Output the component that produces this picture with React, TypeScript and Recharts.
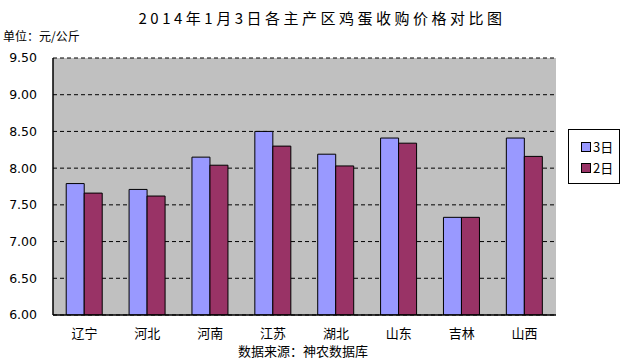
import React from 'react';
import { BarChart, Bar, XAxis, YAxis, CartesianGrid } from 'recharts';

const regions = ['辽宁', '河北', '河南', '江苏', '湖北', '山东', '吉林', '山西'];
const day3 = [7.79, 7.71, 8.15, 8.5, 8.19, 8.41, 7.33, 8.41];
const day2 = [7.66, 7.62, 8.04, 8.3, 8.03, 8.34, 7.33, 8.16];
const yTicks = [6, 6.5, 7, 7.5, 8, 8.5, 9, 9.5];

const seriesInfo = [
  { key: 'd3', name: '3日', color: '#9999FF' },
  { key: 'd2', name: '2日', color: '#993366' },
];

const data = regions.map((r, i) => ({ name: r, d3: day3[i], d2: day2[i] }));

const cjk = '"Noto Sans CJK SC", "DejaVu Sans", sans-serif';

function LegendBox() {
  return (
    <div
      style={{
        position: 'absolute',
        left: 568,
        top: 129,
        border: '1px solid #000',
        background: '#fff',
        width: 52,
        height: 55,
        boxSizing: 'border-box',
        padding: '6px 0 0 12px',
        fontFamily: cjk,
        fontSize: 13,
        color: '#000',
      }}
    >
      {seriesInfo.map((s) => (
        <div key={s.key} style={{ display: 'flex', alignItems: 'center', height: 21 }}>
          <span
            style={{
              display: 'inline-block',
              width: 8,
              height: 8,
              background: s.color,
              border: '1px solid #000',
              marginRight: 2,
            }}
          />
          <span>{s.name}</span>
        </div>
      ))}
    </div>
  );
}

export default function App() {
  return (
    <div style={{ position: 'absolute', left: 0, top: 0, width: 626, height: 361, background: '#fff' }}>
      <div
        style={{
          position: 'absolute',
          top: 7,
          left: 4,
          width: 636,
          textAlign: 'center',
          fontFamily: cjk,
          fontSize: 15,
          letterSpacing: 3.5,
          color: '#000',
        }}
      >
        2014年1月3日各主产区鸡蛋收购价格对比图
      </div>
      <div
        style={{
          position: 'absolute',
          top: 27,
          left: 3,
          fontFamily: cjk,
          fontSize: 12,
          color: '#000',
        }}
      >
        单位：元/公斤
      </div>
      <BarChart
        width={626}
        height={361}
        data={data}
        margin={{ top: 58, right: 70, bottom: 0, left: 0 }}
        barCategoryGap="21%"
        barGap={0}
      >
        <CartesianGrid
          vertical={false}
          horizontal
          stroke="#000"
          strokeDasharray="4 3"
          fill="#C0C0C0"
          fillOpacity={1}
        />
        <XAxis
          dataKey="name"
          height={46}
          axisLine={{ stroke: '#000', strokeWidth: 1.5 }}
          tickLine={false}
          tickMargin={8}
          tick={{ fill: '#000', fontSize: 13, fontFamily: cjk }}
          interval={0}
        />
        <YAxis
          width={53}
          domain={[6, 9.5]}
          ticks={yTicks}
          allowDataOverflow
          axisLine={{ stroke: '#000', strokeWidth: 1.5 }}
          tickLine={false}
          tickSize={8}
          tickMargin={8}
          tickFormatter={(v: number) => v.toFixed(2)}
          tick={{ fill: '#000', fontSize: 12.5, fontFamily: '"DejaVu Sans", sans-serif' }}
        />
        <YAxis
          yAxisId="frame"
          orientation="right"
          width={0}
          domain={[6, 9.5]}
          tick={false}
          tickLine={false}
          axisLine={{ stroke: '#808080', strokeDasharray: '1 2' }}
        />
        {seriesInfo.map((s) => (
          <Bar
            key={s.key}
            dataKey={s.key}
            name={s.name}
            fill={s.color}
            stroke="#000"
            strokeWidth={1}
            isAnimationActive={false}
          />
        ))}
      </BarChart>
      <LegendBox />
      <div
        style={{
          position: 'absolute',
          top: 341,
          left: 0,
          width: 606,
          textAlign: 'center',
          fontFamily: cjk,
          fontSize: 13,
          color: '#000',
        }}
      >
        数据来源：神农数据库
      </div>
    </div>
  );
}
